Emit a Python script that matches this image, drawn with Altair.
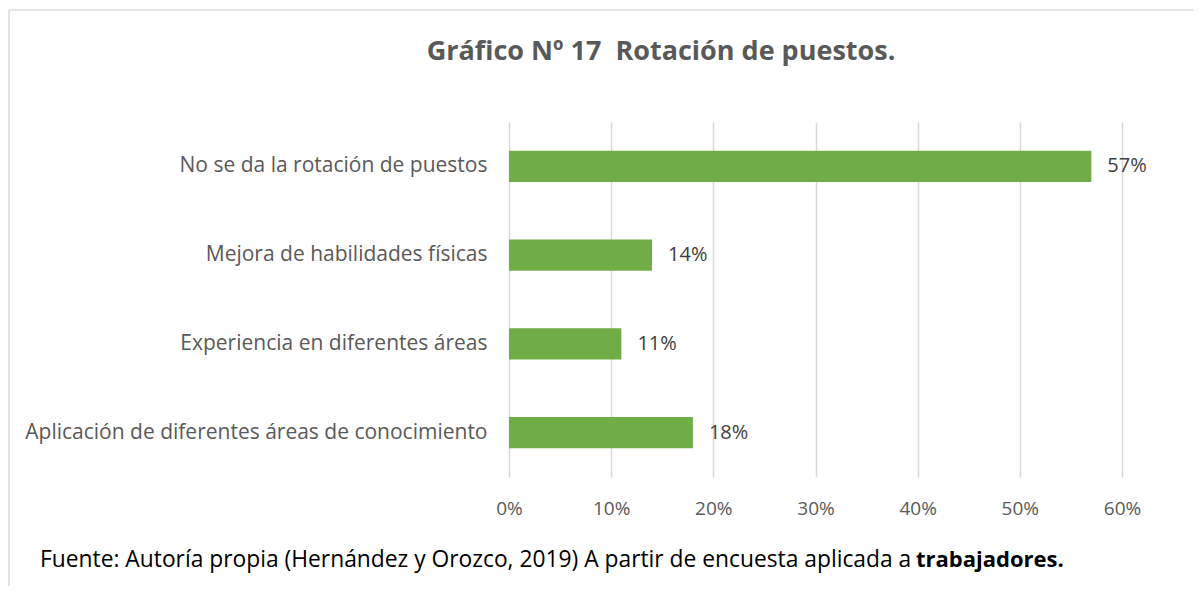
import altair as alt
import pandas as pd

categories = [
    "No se da la rotación de puestos",
    "Mejora de habilidades físicas",
    "Experiencia en diferentes áreas",
    "Aplicación de diferentes áreas de conocimiento",
]
values = [0.57, 0.14, 0.11, 0.18]
labels = ["57%", "14%", "11%", "18%"]
x_ticks = [0, 0.1, 0.2, 0.3, 0.4, 0.5, 0.6]

title_text = "Gráfico Nº 17\u00a0 Rotación de puestos."
footer_normal = "Fuente: Autoría propia (Hernández y Orozco, 2019) A partir de encuesta aplicada a"
footer_bold = "trabajadores."

df = pd.DataFrame({"cat": categories, "val": values, "lab": labels})
one = df.head(1)

FONT = "Open Sans"
GREEN = "#70AD47"

y_enc = alt.Y("cat:N", sort=categories, title=None,
              scale=alt.Scale(paddingInner=0.65, paddingOuter=0.325),
              axis=alt.Axis(labelFont=FONT, labelFontSize=21, labelColor="#595959",
                            labelPadding=22, ticks=False, domain=False, grid=False,
                            labelLimit=600))
x_enc = alt.X("val:Q", title=None,
              scale=alt.Scale(domain=[0, 0.6], nice=False),
              axis=alt.Axis(values=x_ticks, format=".0%", labelFont=FONT, labelFontSize=19,
                            labelColor="#595959", labelPadding=22, ticks=False, domain=False,
                            labelFlush=False,
                            grid=True, gridColor="#d9d9d9", gridWidth=1.5))

bars = alt.Chart(df).mark_bar(color=GREEN).encode(x=x_enc, y=y_enc)
texts = alt.Chart(df).mark_text(align="left", dx=16, font=FONT, fontSize=20,
                                color="#404040").encode(
    x="val:Q", y=alt.Y("cat:N", sort=categories), text="lab:N")

title = alt.Chart(one).mark_text(
    align="center", baseline="middle", font=FONT, fontSize=27, fontWeight="bold", color="#595959"
).encode(x=alt.value(152), y=alt.value(-70), text=alt.value(title_text))

footer_a = alt.Chart(one).mark_text(
    align="left", baseline="middle", font=FONT, fontSize=22.8, color="#000000"
).encode(x=alt.value(-469), y=alt.value(438), text=alt.value(footer_normal))
footer_b = alt.Chart(one).mark_text(
    align="left", baseline="middle", font=FONT, fontSize=22, fontWeight="bold", color="#000000"
).encode(x=alt.value(407), y=alt.value(438), text=alt.value(footer_bold))

border_v = alt.Chart(one).mark_rule(color="#d9d9d9", strokeWidth=1.5).encode(
    x=alt.value(-500), y=alt.value(-112), y2=alt.value(480))
border_h = alt.Chart(one).mark_rule(color="#d9d9d9", strokeWidth=1.5).encode(
    x=alt.value(-500), x2=alt.value(700), y=alt.value(-112))

chart = alt.layer(border_v, border_h, bars, texts, title, footer_a, footer_b).properties(
    width=613, height=355,
    autosize=alt.AutoSizeParams(type="none"),
    padding={"left": 501, "top": 114, "right": 71, "bottom": 109},
).configure_view(stroke=None)

chart.save("out.html", embed_options={"renderer": "svg", "actions": False})
